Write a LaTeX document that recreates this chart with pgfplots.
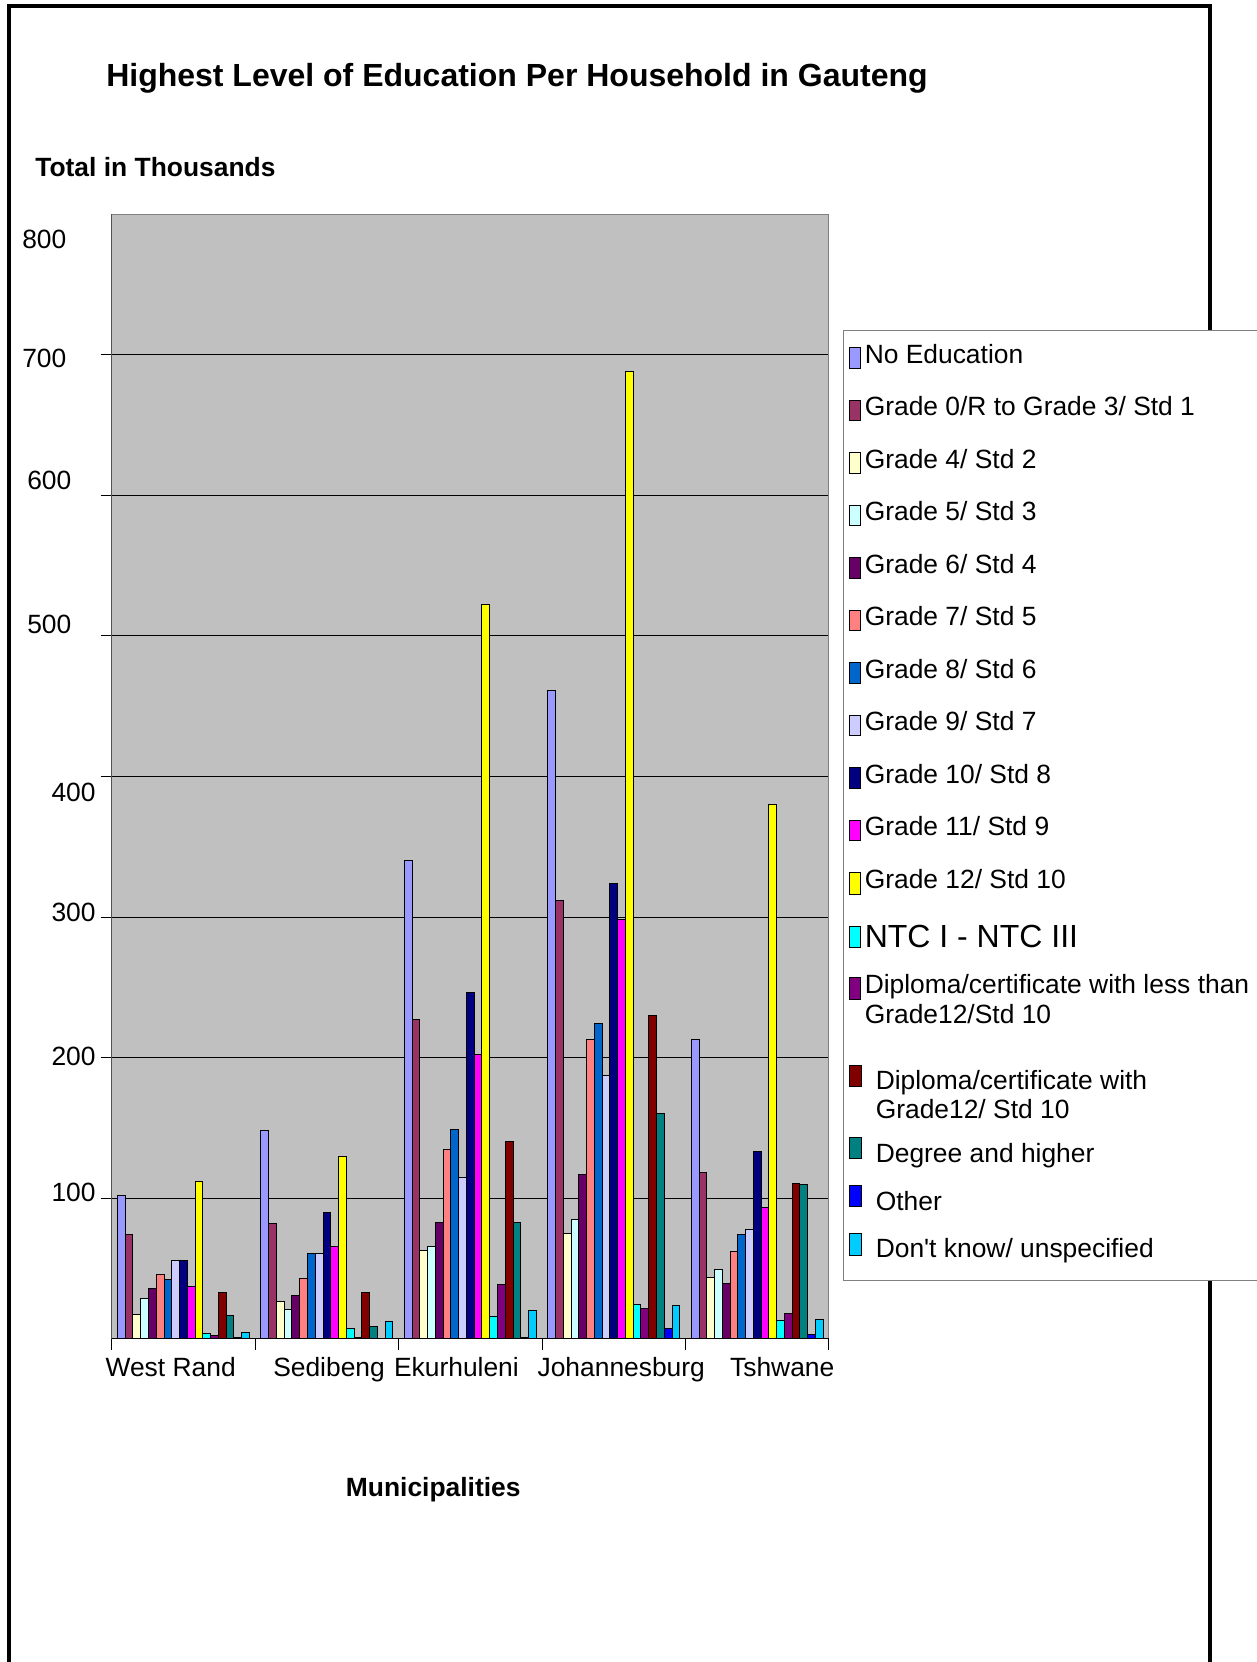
\documentclass[border=0pt]{standalone}
\usepackage{pgfplots}
\pgfplotsset{compat=1.18}
\usepackage{pgfplotstable}
\usepackage{fontspec}
\setmainfont{Liberation Sans}

\definecolor{cA}{HTML}{9999FF}
\definecolor{cB}{HTML}{993366}
\definecolor{cC}{HTML}{FFFFCC}
\definecolor{cD}{HTML}{CCFFFF}
\definecolor{cE}{HTML}{660066}
\definecolor{cF}{HTML}{FF8080}
\definecolor{cG}{HTML}{0066CC}
\definecolor{cH}{HTML}{CCCCFF}
\definecolor{cI}{HTML}{000080}
\definecolor{cJ}{HTML}{FF00FF}
\definecolor{cK}{HTML}{FFFF00}
\definecolor{cL}{HTML}{00FFFF}
\definecolor{cM}{HTML}{800080}
\definecolor{cN}{HTML}{800000}
\definecolor{cO}{HTML}{008080}
\definecolor{cP}{HTML}{0000FF}
\definecolor{cQ}{HTML}{00CCFF}
\definecolor{plotbg}{HTML}{C0C0C0}
\definecolor{axgray}{HTML}{808080}

% Values in thousands; x: 0 West Rand, 1 Sedibeng, 2 Ekurhuleni, 3 Johannesburg, 4 Tshwane
\pgfplotstableread{
x NoEd Gr0 Gr4 Gr5 Gr6 Gr7 Gr8 Gr9 Gr10 Gr11 Gr12 NTC DipL DipW Deg Oth DK
0 102 74 17 28.6 36 46 42 55.5 56 37 112 3.6 2.6 32.6 16.7 1 4.3
1 148 82 26.7 21 30.5 43 60.5 60.7 89.5 66 130 7.4 1 32.9 8.6 0.5 12
2 340 227 63 66 82.6 135 149 115 246 202 522 16 38.6 140.5 83 1 20
3 461 311.6 74.7 84.8 117 212.8 224 187 323.5 298.5 688 24.7 21.6 230 160 7 24
4 213 118 43.5 49 39 62 74 77.4 133 93.6 380 13.3 17.8 110.7 110 2.9 14
}\datatable

\newcommand{\tf}{\fontsize{13.2}{15}\selectfont}

\pgfplotsset{
  % #1 row depth below baseline, #2-#5 swatch rectangle
  lg/.style n args={5}{legend image code/.code={\path (0pt,-#1) (10.15pt,13pt);
     \draw[##1,line width=0.5pt] (#2,#3) rectangle (#4,#5);}},
  bb/.style={draw=black, line width=0.5pt, fill=#1},
}

\begin{document}
\begin{tikzpicture}
\useasboundingbox (0,0) rectangle (628.5pt,-831pt);
\clip (0,0) rectangle (628.5pt,-831pt);
\draw[line width=1.85pt] (4.5pt,-845pt) -- (4.5pt,-3pt) -- (604.85pt,-3pt) -- (604.85pt,-845pt);
\begin{axis}[
  scale only axis, width=358.65pt, height=562.4pt,
  at={(55.85pt,-669.4pt)}, anchor=south west,
  xmin=-0.5, xmax=4.5, ymin=0, ymax=800,
  ybar=0pt, bar width=3.88pt,
  axis background/.style={fill=plotbg},
  axis line style={draw=axgray, line width=0.5pt},
  tick pos=left, tick align=outside, major tick length=5.5pt,
  tick style={black, line width=0.5pt},
  xtick={-0.5,0.5,...,4.5}, xticklabels={},
  ytick={100,200,...,700}, yticklabels={},
  ymajorgrids, major grid style={black, line width=0.5pt},
  extra x ticks={-0.089,1.015,1.903,3.052,4.174},
  extra x tick labels={West Rand,Sedibeng,Ekurhuleni,Johannesburg,Tshwane},
  extra x tick style={major tick length=0pt, grid=none},
  extra y ticks={781.9,697.2,610.4,508.4,388.9,303.2,201.1,104.4},
  extra y tick labels={800\hspace*{14.65pt},700\hspace*{14.65pt},600\hspace*{12.15pt},500\hspace*{12.15pt},400,300,200,100},
  extra y tick style={major tick length=0pt, grid=none},
  xticklabel style={anchor=base, inner sep=0pt, yshift=-18.95pt, font=\tf},
  yticklabel style={anchor=east, inner sep=0pt, xshift=-7.85pt, font=\tf},
  title={Highest Level of Education Per Household in Gauteng},
  every axis title/.style={at={(axis description cs:0.565,1)}, anchor=base, inner sep=0pt, yshift=64pt, font=\bfseries\fontsize{16}{19}\selectfont},
  xlabel={Municipalities},
  every axis x label/.style={at={(axis description cs:0.4483,0)}, anchor=base, inner sep=0pt, yshift=-78.95pt, font=\bfseries\tf},
  ylabel={Total in Thousands},
  every axis y label/.style={at={(axis description cs:0,1)}, anchor=base west, inner sep=0pt, xshift=-38.35pt, yshift=18.65pt, font=\bfseries\tf},
  legend cell align=left,
  legend style={at={(axis description cs:1.0195,0.8969)}, anchor=north west,
    draw=axgray, line width=0.5pt, fill=white, inner xsep=0pt, inner ysep=3.15pt,
    row sep=0pt, column sep=0pt, font=\tf,
    cells={anchor=base west}, nodes={inner sep=0pt}},
]
\addplot[bb=cA, lg={12.75pt}{2.65pt}{-2.5pt}{8.15pt}{7.8pt}] table[x=x,y=NoEd]{\datatable};
\addlegendentry{No Education}
\addplot[bb=cB, lg={12.75pt}{2.65pt}{-2.5pt}{8.15pt}{7.8pt}] table[x=x,y=Gr0]{\datatable};
\addlegendentry{Grade 0/R to Grade 3/ Std 1}
\addplot[bb=cC, lg={12.75pt}{2.65pt}{-2.5pt}{8.15pt}{7.8pt}] table[x=x,y=Gr4]{\datatable};
\addlegendentry{Grade 4/ Std 2}
\addplot[bb=cD, lg={12.75pt}{2.65pt}{-2.5pt}{8.15pt}{7.8pt}] table[x=x,y=Gr5]{\datatable};
\addlegendentry{Grade 5/ Std 3}
\addplot[bb=cE, lg={12.75pt}{2.65pt}{-2.5pt}{8.15pt}{7.8pt}] table[x=x,y=Gr6]{\datatable};
\addlegendentry{Grade 6/ Std 4}
\addplot[bb=cF, lg={12.75pt}{2.65pt}{-2.5pt}{8.15pt}{7.8pt}] table[x=x,y=Gr7]{\datatable};
\addlegendentry{Grade 7/ Std 5}
\addplot[bb=cG, lg={12.75pt}{2.65pt}{-2.5pt}{8.15pt}{7.8pt}] table[x=x,y=Gr8]{\datatable};
\addlegendentry{Grade 8/ Std 6}
\addplot[bb=cH, lg={12.75pt}{2.65pt}{-2.5pt}{8.15pt}{7.8pt}] table[x=x,y=Gr9]{\datatable};
\addlegendentry{Grade 9/ Std 7}
\addplot[bb=cI, lg={12.75pt}{2.65pt}{-2.5pt}{8.15pt}{7.8pt}] table[x=x,y=Gr10]{\datatable};
\addlegendentry{Grade 10/ Std 8}
\addplot[bb=cJ, lg={12.75pt}{2.65pt}{-2.5pt}{8.15pt}{7.8pt}] table[x=x,y=Gr11]{\datatable};
\addlegendentry{Grade 11/ Std 9}
\addplot[bb=cK, lg={16.2pt}{2.65pt}{-3pt}{8.15pt}{7.8pt}] table[x=x,y=Gr12]{\datatable};
\addlegendentry{Grade 12/ Std 10}
\addplot[bb=cL, lg={9.3pt}{2.65pt}{0.35pt}{8.15pt}{10.85pt}] table[x=x,y=NTC]{\datatable};
\addlegendentry{\fontsize{16}{19}\selectfont NTC I - NTC III}
\addplot[bb=cM, lg={34.5pt}{2.65pt}{-3.3pt}{8.15pt}{7.8pt}] table[x=x,y=DipL]{\datatable};
\addlegendentry{\vtop{\baselineskip=15pt\hbox{Diploma/certificate with less than\hspace*{15pt}}\hbox{Grade12/Std 10}}}
\addplot[bb=cN, lg={23.2pt}{3pt}{1.3pt}{8.8pt}{12.15pt}] table[x=x,y=DipW]{\datatable};
\addlegendentry{\hspace*{5.5pt}\vtop{\baselineskip=14.7pt\hbox{Diploma/certificate with}\hbox{Grade12/ Std 10}}}
\addplot[bb=cO, lg={10.15pt}{3pt}{2pt}{8.8pt}{12.85pt}] table[x=x,y=Deg]{\datatable};
\addlegendentry{\hspace*{5.5pt}Degree and higher}
\addplot[bb=cP, lg={10.35pt}{3pt}{1.65pt}{8.8pt}{12.5pt}] table[x=x,y=Oth]{\datatable};
\addlegendentry{\hspace*{5.5pt}Other}
\addplot[bb=cQ, lg={8pt}{3pt}{1.35pt}{8.8pt}{12.2pt}] table[x=x,y=DK]{\datatable};
\addlegendentry{\hspace*{5.5pt}Don\textquotesingle t know/ unspecified}
\draw[black, line width=0.6pt] (rel axis cs:0,1) -- (rel axis cs:0,0) -- (rel axis cs:1,0);
\end{axis}
\end{tikzpicture}
\end{document}
